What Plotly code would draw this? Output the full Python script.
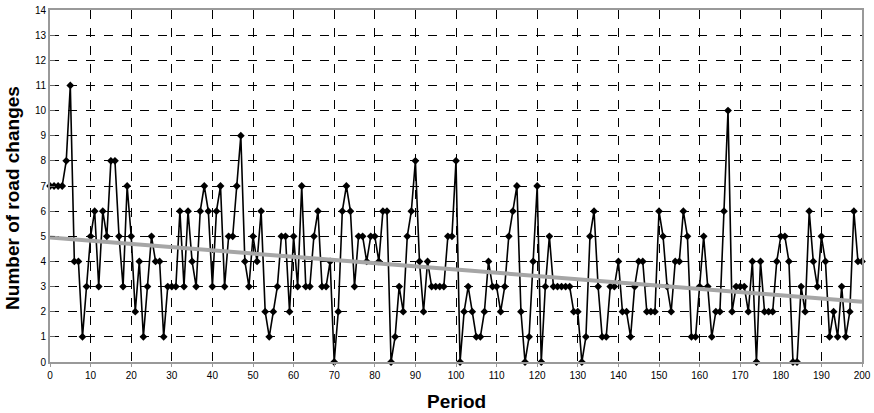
import plotly.graph_objects as go

# number of road changes per period
changes = [
    7, 7, 7, 7, 8, 11, 4, 4, 1, 3,
    5, 6, 3, 6, 5, 8, 8, 5, 3, 7,
    5, 2, 4, 1, 3, 5, 4, 4, 1, 3,
    3, 3, 6, 3, 6, 4, 3, 6, 7, 6,
    3, 6, 7, 3, 5, 5, 7, 9, 4, 3,
    5, 4, 6, 2, 1, 2, 3, 5, 5, 2,
    5, 3, 7, 3, 3, 5, 6, 3, 3, 4,
    0, 2, 6, 7, 6, 3, 5, 5, 4, 5,
    5, 4, 6, 6, 0, 1, 3, 2, 5, 6,
    8, 4, 2, 4, 3, 3, 3, 3, 5, 5,
    8, 0, 2, 3, 2, 1, 1, 2, 4, 3,
    3, 2, 3, 5, 6, 7, 2, 0, 1, 4,
    7, 0, 3, 5, 3, 3, 3, 3, 3, 2,
    2, 0, 1, 5, 6, 3, 1, 1, 3, 3,
    4, 2, 2, 1, 3, 4, 4, 2, 2, 2,
    6, 5, 3, 2, 4, 4, 6, 5, 1, 1,
    3, 5, 3, 1, 2, 2, 6, 10, 2, 3,
    3, 3, 2, 4, 0, 4, 2, 2, 2, 4,
    5, 5, 4, 0, 0, 3, 2, 6, 4, 3,
    5, 4, 1, 2, 1, 3, 1, 2, 6, 4,
    4,
]
periods = list(range(len(changes)))

# linear trend, end points
trend_x = [0, 200]
trend_y = [4.95, 2.4]

fnt = "Arial, Liberation Sans"

fig = go.Figure()
fig.add_trace(
    go.Scatter(
        x=periods,
        y=changes,
        mode="lines+markers",
        line=dict(color="black", width=1.6),
        marker=dict(symbol="diamond", size=6, color="black"),
        showlegend=False,
        cliponaxis=False,
    )
)
fig.add_trace(
    go.Scatter(
        x=trend_x,
        y=trend_y,
        mode="lines",
        line=dict(color="#a6a6a6", width=4),
        showlegend=False,
    )
)

fig.update_layout(
    width=874,
    height=413,
    margin=dict(l=50, r=12, t=10, b=51),
    plot_bgcolor="white",
    paper_bgcolor="white",
    font=dict(family=fnt, size=10, color="black"),
)
fig.update_xaxes(
    range=[0, 200],
    dtick=10,
    tick0=0,
    automargin=False,
    ticklabeloverflow="allow",
    showgrid=True,
    gridcolor="black",
    griddash="dash",
    gridwidth=1,
    showline=True,
    linecolor="#999999",
    linewidth=2,
    mirror=True,
    zeroline=False,
    ticks="outside",
    ticklen=3,
    tickcolor="#999999",
    tickfont=dict(size=10),
)
fig.update_yaxes(
    range=[0, 14],
    dtick=1,
    tick0=0,
    automargin=False,
    ticklabeloverflow="allow",
    showgrid=True,
    gridcolor="black",
    griddash="dash",
    gridwidth=1,
    showline=True,
    linecolor="#999999",
    linewidth=2,
    mirror=True,
    zeroline=False,
    ticks="inside",
    ticklen=5,
    tickcolor="#666666",
    tickfont=dict(size=10),
)

fig.add_annotation(
    text="<b>Number of road changes</b>",
    xref="paper", yref="paper", x=-0.0456, y=0.466,
    xanchor="center", yanchor="middle", textangle=-90,
    showarrow=False, font=dict(size=19),
)
fig.add_annotation(
    text="<b>Period</b>",
    xref="paper", yref="paper", x=0.5, y=-0.111,
    xanchor="center", yanchor="middle",
    showarrow=False, font=dict(size=19),
)

# drop the default body margin so the figure fills the window
fig.write_html(
    "out.html",
    config={"displayModeBar": False},
    post_script="document.body.style.margin='0';",
)
